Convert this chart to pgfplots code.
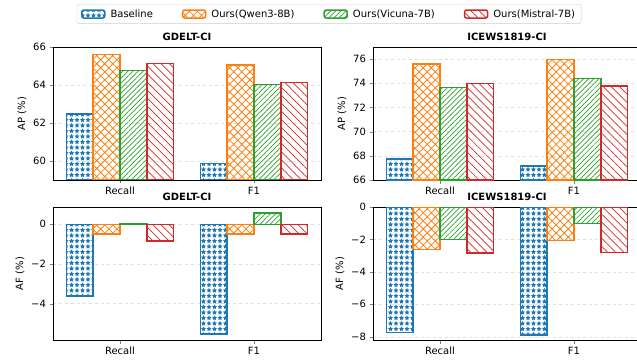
\documentclass[border=0pt]{standalone}
\usepackage{fontspec}
\setmainfont{DejaVu Sans}
\usepackage{pgfplots}
\pgfplotsset{compat=1.18}
\usetikzlibrary{patterns.meta}
\definecolor{c0}{HTML}{1F77B4}
\definecolor{c1}{HTML}{FF7F0E}
\definecolor{c2}{HTML}{2CA02C}
\definecolor{c3}{HTML}{D62728}
\pgfplotsset{
  panel/.style={
    scale only axis, width=268pt, height=133pt,
    xmin=-0.5, xmax=1.5, xtick={0,1}, xticklabels={Recall,F1},
    tick pos=left, tick align=outside, major tick length=3.5pt,
    ymajorgrids, major grid style={dashed, black!12, line width=0.5pt},
    axis line style={line width=0.8pt},
    title style={font=\bfseries, yshift=-3pt},
    /pgf/number format/assume math mode=true,
    tick label style={font=\fontsize{10}{12}\selectfont},
    label style={font=\fontsize{10}{12}\selectfont},
    legend image code/.code={\draw[#1] (0pt,-4pt) rectangle (23pt,4pt);},
  },
  sb/.style={ybar, bar width=0.2, bar shift=0pt, draw=c0, line width=1.5pt,
    pattern={Stars[distance=5.5pt,radius=2.6pt,points=5]}, pattern color=c0},
  sq/.style={ybar, bar width=0.2, bar shift=0pt, draw=c1, line width=1.5pt,
    pattern={Hatch[angle=45,distance=5.7pt,line width=0.8pt]}, pattern color=c1},
  sv/.style={ybar, bar width=0.2, bar shift=0pt, draw=c2, line width=1.5pt,
    pattern={Lines[angle=45,distance=3.6pt,line width=0.7pt]}, pattern color=c2},
  sm/.style={ybar, bar width=0.2, bar shift=0pt, draw=c3, line width=1.5pt,
    pattern={Lines[angle=-45,distance=5.7pt,line width=0.7pt]}, pattern color=c3},
}
\begin{document}
\begin{tikzpicture}
\useasboundingbox (0pt,0pt) rectangle (637pt,362pt);
% GDELT AP
\begin{axis}[panel, at={(53pt,182pt)}, anchor=south west,
  title={GDELT-CI}, ylabel={AP (\%)}, ymin=59, ymax=66, ytick={60,62,64,66},
  legend style={at={(1.03,1.248)}, anchor=center, legend columns=4,
    draw=black!20, rounded corners=2pt, font=\fontsize{10}{12}\selectfont,
    inner xsep=4pt, inner ysep=3pt,
    /tikz/every odd column/.append style={column sep=3pt},
    /tikz/every even column/.append style={column sep=27pt}},
  legend cell align=left]
\addplot[sb] coordinates {(-0.3,62.48) (0.7,59.86)};
\addplot[sq] coordinates {(-0.1,65.60) (0.9,65.06)};
\addplot[sv] coordinates {(0.1,64.76) (1.1,64.03)};
\addplot[sm] coordinates {(0.3,65.12) (1.3,64.13)};
\legend{Baseline,Ours(Qwen3-8B),Ours(Vicuna-7B),Ours(Mistral-7B)}
\end{axis}
% ICEWS AP
\begin{axis}[panel, at={(373pt,182pt)}, anchor=south west,
  title={ICEWS1819-CI}, ylabel={AP (\%)}, ymin=66, ymax=77, ytick={66,68,70,72,74,76}]
\addplot[sb] coordinates {(-0.3,67.74) (0.7,67.16)};
\addplot[sq] coordinates {(-0.1,75.61) (0.9,75.97)};
\addplot[sv] coordinates {(0.1,73.65) (1.1,74.40)};
\addplot[sm] coordinates {(0.3,73.98) (1.3,73.79)};
\end{axis}
% GDELT AF
\begin{axis}[panel, at={(53pt,22pt)}, anchor=south west,
  title={GDELT-CI}, ylabel={AF (\%)}, ymin=-5.83, ymax=0.87, ytick={-4,-2,0},
  yticklabels={−4,−2,0}]
\addplot[sb] coordinates {(-0.3,-3.62) (0.7,-5.52)};
\addplot[sq] coordinates {(-0.1,-0.49) (0.9,-0.49)};
\addplot[sv] coordinates {(0.1,0.05) (1.1,0.57)};
\addplot[sm] coordinates {(0.3,-0.84) (1.3,-0.49)};
\end{axis}
% ICEWS AF
\begin{axis}[panel, at={(373pt,22pt)}, anchor=south west,
  title={ICEWS1819-CI}, ylabel={AF (\%)}, ymin=-8.2, ymax=0, ytick={-8,-6,-4,-2,0},
  yticklabels={−8,−6,−4,−2,0}]
\addplot[sb] coordinates {(-0.3,-7.73) (0.7,-7.88)};
\addplot[sq] coordinates {(-0.1,-2.62) (0.9,-2.08)};
\addplot[sv] coordinates {(0.1,-2.00) (1.1,-1.02)};
\addplot[sm] coordinates {(0.3,-2.83) (1.3,-2.81)};
\end{axis}
\end{tikzpicture}
\end{document}
